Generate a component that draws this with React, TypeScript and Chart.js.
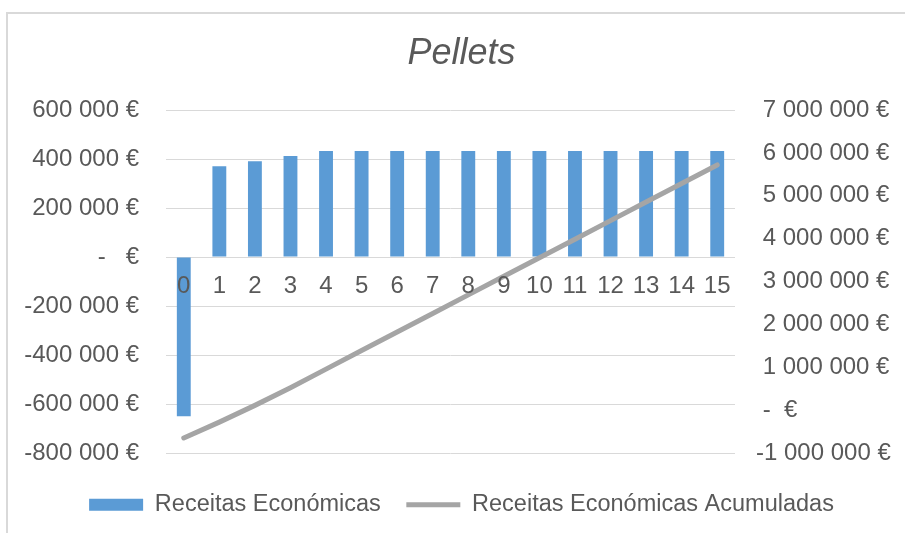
import { useEffect, useRef } from 'react';
import { Chart, registerables } from 'chart.js';

Chart.register(...registerables);

// Years of the project
const anos = ['0', '1', '2', '3', '4', '5', '6', '7', '8', '9', '10', '11', '12', '13', '14', '15'];

// Yearly economic revenue (€), left axis
const receitasEconomicas = [
  -650000, 370000, 391000, 412000, 433000, 433000, 433000, 433000,
  433000, 433000, 433000, 433000, 433000, 433000, 433000, 433000,
];

// Accumulated economic revenue (€), right axis
const receitasAcumuladas = [
  -650000, -280000, 111000, 523000, 956000, 1389000, 1822000, 2255000,
  2688000, 3121000, 3554000, 3987000, 4420000, 4853000, 5286000, 5719000,
];

// Axis ranges
const leftMin = -800000;
const leftMax = 600000;
const leftStep = 200000;
const rightMin = -1000000;
const rightMax = 7000000;
const rightStep = 1000000;

const TEXT = '#595959';
const GRID = '#d9d9d9';
const BAR = '#5b9bd5';
const LINE = '#a5a5a5';
const FONT = "'Liberation Sans', Arial, sans-serif";

function groupThousands(v: number): string {
  const s = Math.abs(Math.round(v)).toString().replace(/\B(?=(\d{3})+(?!\d))/g, ' ');
  return (v < 0 ? '-' : '') + s;
}

function leftLabel(v: number): string {
  if (v === 0) return '-   €';
  return groupThousands(v) + ' €';
}

function rightLabel(v: number): string {
  if (v === 0) return ' -  €';
  return (v < 0 ? '' : ' ') + groupThousands(v) + ' €';
}

export default function App() {
  const canvasRef = useRef<HTMLCanvasElement>(null);

  useEffect(() => {
    const canvas = canvasRef.current;
    if (!canvas) return;
    const tickFont = { family: FONT, size: 24 };

    const chart = new Chart(canvas, {
      type: 'bar',
      data: {
        labels: anos,
        datasets: [
          {
            type: 'bar',
            label: 'Receitas Económicas',
            data: receitasEconomicas,
            backgroundColor: BAR,
            borderWidth: 0,
            xAxisID: 'x',
            yAxisID: 'y',
            categoryPercentage: 1,
            barPercentage: 0.39,
            pointStyle: 'rect',
            order: 2,
          },
          {
            type: 'line',
            label: 'Receitas Económicas Acumuladas',
            data: receitasAcumuladas,
            borderColor: LINE,
            backgroundColor: LINE,
            borderWidth: 5,
            borderCapStyle: 'round',
            borderJoinStyle: 'round',
            pointRadius: 0,
            pointHoverRadius: 0,
            pointStyle: 'line',
            tension: 0,
            xAxisID: 'x',
            yAxisID: 'y1',
            order: 1,
          },
        ],
      } as any,
      options: {
        responsive: false,
        animation: false,
        events: [],
        layout: { padding: { left: 18, right: 0, top: 0, bottom: 6.5 } },
        plugins: {
          title: {
            display: true,
            text: 'Pellets',
            color: TEXT,
            font: { family: FONT, size: 36, style: 'italic', weight: 'normal', lineHeight: 1.2 },
            padding: { top: 32.5, bottom: 34.3 },
          },
          legend: {
            position: 'bottom',
            labels: {
              usePointStyle: true,
              pointStyleWidth: 54,
              boxHeight: 12,
              padding: 25.5,
              color: TEXT,
              font: { family: FONT, size: 23.5 },
              sort: (a: any, b: any) => a.datasetIndex - b.datasetIndex,
            },
          },
          tooltip: { enabled: false },
        },
        scales: {
          x: {
            type: 'category',
            position: { y: 0 },
            offset: true,
            grid: { display: false, drawTicks: false },
            border: { display: false },
            ticks: {
              z: 1,
              color: TEXT,
              font: tickFont,
              padding: 15,
              maxRotation: 0,
              autoSkip: false,
            },
          },
          // reserves the gap between the plot and the legend
          xs: {
            type: 'linear',
            position: 'bottom',
            grid: { display: false, drawTicks: false },
            border: { display: false },
            ticks: { display: false },
            afterFit: (s: any) => {
              s.height = 14.5;
            },
          },
          y: {
            type: 'linear',
            position: 'left',
            min: leftMin,
            max: leftMax,
            grid: { color: GRID, lineWidth: 1, drawTicks: false },
            border: { display: false },
            ticks: {
              stepSize: leftStep,
              color: TEXT,
              font: tickFont,
              padding: 27,
              callback: (v: any) => leftLabel(Number(v)),
            },
            afterFit: (s: any) => {
              s.width = 148;
            },
          },
          y1: {
            type: 'linear',
            position: 'right',
            min: rightMin,
            max: rightMax,
            grid: { drawOnChartArea: false, drawTicks: false },
            border: { display: false },
            ticks: {
              stepSize: rightStep,
              color: TEXT,
              font: tickFont,
              padding: 21,
              callback: (v: any) => rightLabel(Number(v)),
            },
            afterFit: (s: any) => {
              s.width = 170;
            },
          },
        },
      } as any,
    });

    return () => chart.destroy();
  }, []);

  return (
    <div
      style={{
        position: 'fixed',
        left: 0,
        top: 0,
        width: 905,
        height: 533,
        background: '#ffffff',
        overflow: 'hidden',
      }}
    >
      <canvas
        ref={canvasRef}
        width={905}
        height={533}
        style={{ position: 'absolute', left: 0, top: 0, width: 905, height: 533 }}
      />
      <div
        style={{
          position: 'absolute',
          left: 6,
          top: 12,
          width: 940,
          height: 560,
          border: '2px solid #d9d9d9',
          boxSizing: 'border-box',
          pointerEvents: 'none',
        }}
      />
    </div>
  );
}
